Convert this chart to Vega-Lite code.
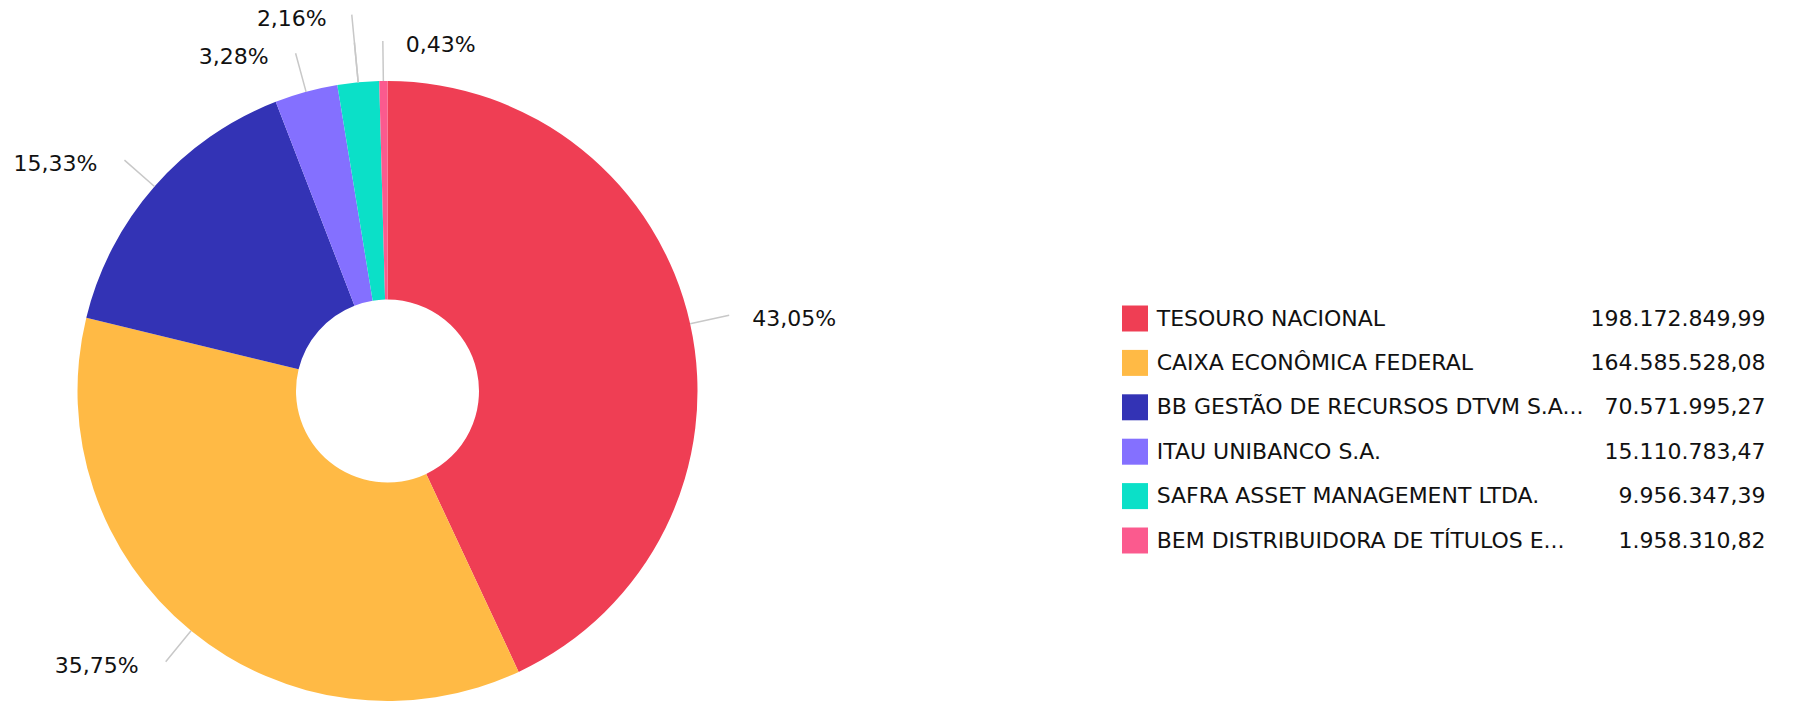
{
  "$schema": "https://vega.github.io/schema/vega-lite/v6.json",
  "background": "white",
  "padding": {"left": 0, "top": 6, "right": 0, "bottom": 0},
  "bounds": "flush",
  "spacing": 347,
  "config": {
    "view": {"stroke": null},
    "font": "DejaVu Sans",
    "locale": {"number": {"decimal": ",", "thousands": ".", "grouping": [3], "currency": ["R$ ", ""]}}
  },
  "data": {
    "values": [
      {"name": "TESOURO NACIONAL", "value": 198172849.99, "pct": 0.4305},
      {"name": "CAIXA ECONÔMICA FEDERAL", "value": 164585528.08, "pct": 0.3575},
      {"name": "BB GESTÃO DE RECURSOS DTVM S.A...", "value": 70571995.27, "pct": 0.1533},
      {"name": "ITAU UNIBANCO S.A.", "value": 15110783.47, "pct": 0.0328},
      {"name": "SAFRA ASSET MANAGEMENT LTDA.", "value": 9956347.39, "pct": 0.0216},
      {"name": "BEM DISTRIBUIDORA DE TÍTULOS E...", "value": 1958310.82, "pct": 0.0043}
    ]
  },
  "hconcat": [
    {
      "width": 775,
      "height": 620,
      "encoding": {
        "theta": {"field": "value", "type": "quantitative", "stack": true},
        "order": {"field": "value", "type": "quantitative", "sort": "descending"},
        "detail": {"field": "name", "type": "nominal"}
      },
      "layer": [
        {
          "mark": {"type": "arc", "outerRadius": 310, "innerRadius": 91.5},
          "encoding": {
            "color": {
              "field": "name", "type": "nominal",
              "scale": {
                "domain": ["TESOURO NACIONAL", "CAIXA ECONÔMICA FEDERAL", "BB GESTÃO DE RECURSOS DTVM S.A...", "ITAU UNIBANCO S.A.", "SAFRA ASSET MANAGEMENT LTDA.", "BEM DISTRIBUIDORA DE TÍTULOS E..."],
                "range": ["#EF3E54", "#FFBA45", "#3333B5", "#8470FF", "#0BE0C8", "#FB5A8E"]
              },
              "legend": null
            }
          }
        },
        {
          "mark": {"type": "arc", "innerRadius": 310, "outerRadius": 350, "padAngle": 3, "filled": false, "stroke": "#c8c8c8", "strokeWidth": 1.5}
        },
        {
          "mark": {"type": "arc", "innerRadius": 310, "outerRadius": 378, "padAngle": 3, "filled": false, "stroke": "#c8c8c8", "strokeWidth": 1.5},
          "encoding": {
            "strokeOpacity": {"condition": {"test": "datum.name === 'SAFRA ASSET MANAGEMENT LTDA.'", "value": 1}, "value": 0}
          }
        },
        {
          "mark": {"type": "text", "radius": 350, "align": "left", "baseline": "middle", "dx": 23, "dy": 4, "fontSize": 22, "color": "#111"},
          "encoding": {
            "text": {"condition": {"test": "datum.name === 'TESOURO NACIONAL' || datum.name === 'BEM DISTRIBUIDORA DE TÍTULOS E...'", "field": "pct", "type": "quantitative", "format": ".2%"}, "value": ""}
          }
        },
        {
          "mark": {"type": "text", "radius": 350, "align": "right", "baseline": "middle", "dx": -27, "dy": 4, "fontSize": 22, "color": "#111"},
          "encoding": {
            "text": {"condition": {"test": "datum.name === 'CAIXA ECONÔMICA FEDERAL' || datum.name === 'BB GESTÃO DE RECURSOS DTVM S.A...' || datum.name === 'ITAU UNIBANCO S.A.'", "field": "pct", "type": "quantitative", "format": ".2%"}, "value": ""}
          }
        },
        {
          "mark": {"type": "text", "radius": 378, "align": "right", "baseline": "middle", "dx": -25, "dy": 4, "fontSize": 22, "color": "#111"},
          "encoding": {
            "text": {"condition": {"test": "datum.name === 'SAFRA ASSET MANAGEMENT LTDA.'", "field": "pct", "type": "quantitative", "format": ".2%"}, "value": ""}
          }
        }
      ]
    },
    {
      "width": 643.4,
      "height": 620,
      "encoding": {
        "y": {
          "field": "name", "type": "nominal",
          "sort": {"field": "value", "order": "descending"},
          "scale": {"range": [215.3, 481.7], "paddingInner": 0, "paddingOuter": 0},
          "axis": null
        }
      },
      "layer": [
        {
          "mark": {"type": "square", "size": 676, "opacity": 1},
          "encoding": {
            "x": {"value": 13},
            "color": {"field": "name", "type": "nominal", "legend": null}
          }
        },
        {
          "mark": {"type": "text", "align": "left", "baseline": "middle", "fontSize": 22, "color": "#111"},
          "encoding": {
            "x": {"value": 34.7},
            "text": {"field": "name", "type": "nominal"}
          }
        },
        {
          "mark": {"type": "text", "align": "right", "baseline": "middle", "fontSize": 22, "color": "#111"},
          "encoding": {
            "x": {"value": "width"},
            "text": {"field": "value", "type": "quantitative", "format": ",.2f"}
          }
        }
      ]
    }
  ]
}
